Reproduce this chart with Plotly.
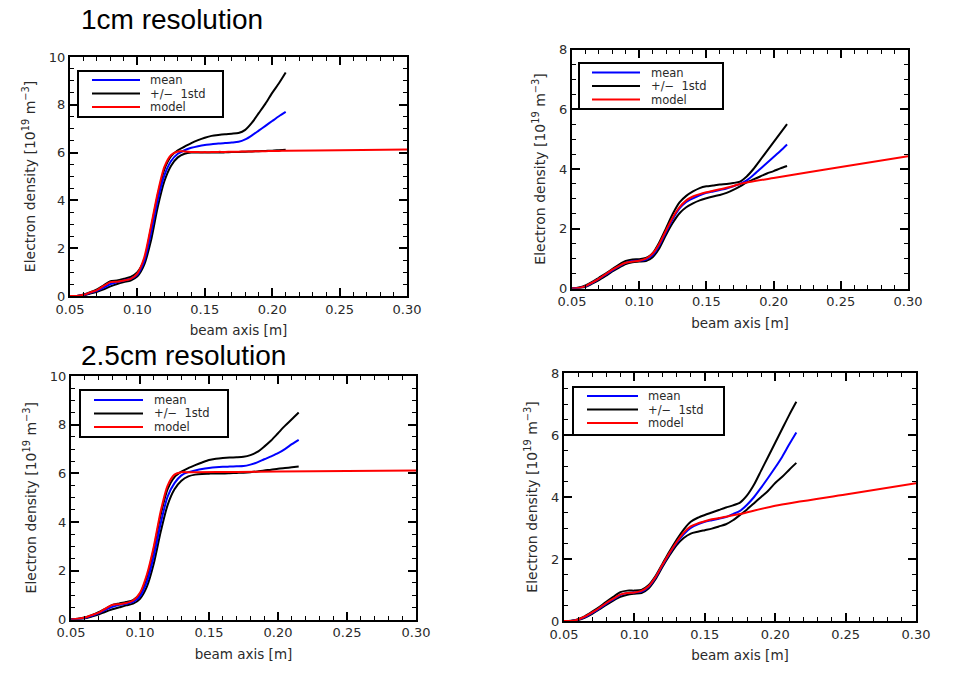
import numpy as np
import plotly.graph_objects as go

W, H = 955, 689

# ---------------- data ----------------
X_TOP = [round(0.05 + 0.005 * i, 3) for i in range(33)]   # 0.050 .. 0.210
X_BOT = [round(0.05 + 0.005 * i, 3) for i in range(34)]   # 0.050 .. 0.215

# panel: 1cm resolution, left
MEAN_TL = [0, 0, 0.04, 0.13, 0.22, 0.35, 0.5, 0.58, 0.65, 0.72, 0.9, 1.45, 2.6, 4.0, 5.05, 5.65,
           5.95, 6.1, 6.2, 6.27, 6.32, 6.35, 6.38, 6.4, 6.42, 6.45, 6.55, 6.72, 6.92, 7.12, 7.32, 7.52, 7.7]
UPPER_TL = [0, 0, 0.06, 0.16, 0.28, 0.45, 0.62, 0.65, 0.72, 0.8, 1.0, 1.5, 2.8, 4.2, 5.3, 5.85,
            6.1, 6.25, 6.4, 6.52, 6.62, 6.7, 6.74, 6.77, 6.79, 6.82, 6.95, 7.25, 7.65, 8.05, 8.5, 8.9, 9.35]
LOWER_TL = [0, 0, 0.02, 0.1, 0.18, 0.28, 0.4, 0.5, 0.58, 0.65, 0.82, 1.3, 2.3, 3.7, 4.8, 5.45,
            5.8, 5.95, 6.0, 6.0, 6.0, 6.0, 6.0, 6.01, 6.02, 6.03, 6.04, 6.05, 6.06, 6.07, 6.08, 6.1, 6.12]
MODEL_X_TL = X_TOP + [0.25, 0.30]
MODEL_TL = [0, 0, 0.05, 0.15, 0.25, 0.42, 0.58, 0.6, 0.65, 0.72, 0.95, 1.6, 2.9, 4.3, 5.4, 5.9,
            6.05, 6.05, 6.03, 6.02, 6.02, 6.02, 6.03, 6.03, 6.04, 6.04, 6.05, 6.05, 6.06, 6.06, 6.07,
            6.07, 6.08, 6.1, 6.13]

# panel: 1cm resolution, right
MEAN_TR = [0, 0.02, 0.07, 0.19, 0.32, 0.46, 0.61, 0.74, 0.86, 0.92, 0.93, 0.97, 1.12, 1.45, 1.9, 2.33,
           2.68, 2.9, 3.02, 3.12, 3.2, 3.25, 3.3, 3.35, 3.42, 3.5, 3.62, 3.8, 4.0, 4.2, 4.4, 4.6, 4.82]
UPPER_TR = [0, 0.03, 0.1, 0.22, 0.36, 0.5, 0.65, 0.8, 0.92, 0.97, 0.98, 1.02, 1.18, 1.55, 2.02, 2.5,
            2.88, 3.1, 3.25, 3.36, 3.42, 3.45, 3.48, 3.5, 3.53, 3.58, 3.75, 4.0, 4.3, 4.6, 4.9, 5.2, 5.5]
LOWER_TR = [0, 0.01, 0.05, 0.16, 0.28, 0.42, 0.57, 0.7, 0.82, 0.88, 0.9, 0.92, 1.05, 1.35, 1.8, 2.2,
            2.52, 2.72, 2.85, 2.95, 3.02, 3.08, 3.13, 3.2, 3.3, 3.42, 3.55, 3.65, 3.75, 3.85, 3.93, 4.02, 4.1]
MODEL_X_TR = X_TOP[:26] + [0.20, 0.25, 0.30]
MODEL_TR = [0, 0.02, 0.08, 0.2, 0.33, 0.48, 0.63, 0.76, 0.86, 0.9, 0.93, 1.0, 1.17, 1.5, 1.95, 2.38,
            2.72, 2.95, 3.08, 3.16, 3.22, 3.27, 3.32, 3.37, 3.43, 3.5, 3.7, 4.07, 4.43]

# panel: 2.5cm resolution, left
MEAN_BL = [0, 0.02, 0.06, 0.15, 0.25, 0.4, 0.52, 0.6, 0.65, 0.72, 0.95, 1.55, 2.6, 3.95, 5.05, 5.6,
           5.92, 6.05, 6.12, 6.18, 6.22, 6.25, 6.27, 6.28, 6.29, 6.3, 6.36, 6.45, 6.58, 6.7, 6.83, 7.0,
           7.2, 7.38]
UPPER_BL = [0, 0.03, 0.08, 0.18, 0.3, 0.45, 0.6, 0.66, 0.72, 0.8, 1.05, 1.75, 2.9, 4.3, 5.35, 5.85,
            6.07, 6.22, 6.34, 6.45, 6.55, 6.6, 6.63, 6.65, 6.66, 6.68, 6.75, 6.88, 7.1, 7.35, 7.65, 7.95,
            8.22, 8.5]
LOWER_BL = [0, 0.01, 0.04, 0.12, 0.2, 0.32, 0.42, 0.5, 0.58, 0.65, 0.85, 1.35, 2.3, 3.6, 4.7, 5.35,
            5.7, 5.88, 5.95, 5.98, 5.99, 6.0, 6.0, 6.01, 6.02, 6.03, 6.05, 6.08, 6.12, 6.15, 6.19, 6.22,
            6.25, 6.28]
MODEL_X_BL = X_BOT[:19] + [0.17, 0.20, 0.25, 0.30]
MODEL_BL = [0, 0.03, 0.08, 0.18, 0.28, 0.45, 0.6, 0.63, 0.68, 0.78, 1.1, 1.85, 3.0, 4.45, 5.5, 5.95,
            6.05, 6.05, 6.05, 6.06, 6.08, 6.1, 6.12]

# panel: 2.5cm resolution, right
MEAN_BR = [0, 0, 0.04, 0.13, 0.26, 0.4, 0.56, 0.7, 0.84, 0.9, 0.92, 0.95, 1.1, 1.4, 1.8, 2.18,
           2.52, 2.8, 3.0, 3.12, 3.2, 3.25, 3.3, 3.35, 3.45, 3.55, 3.75, 4.0, 4.3, 4.62, 4.95, 5.3,
           5.7, 6.08]
UPPER_BR = [0, 0.01, 0.06, 0.16, 0.3, 0.45, 0.62, 0.78, 0.93, 0.98, 0.98, 1.0, 1.15, 1.45, 1.85, 2.25,
            2.62, 2.95, 3.2, 3.33, 3.42, 3.5, 3.58, 3.66, 3.73, 3.82, 4.05, 4.4, 4.85, 5.3, 5.75, 6.2,
            6.65, 7.07]
LOWER_BR = [0, 0, 0.03, 0.11, 0.23, 0.37, 0.52, 0.66, 0.78, 0.85, 0.88, 0.9, 1.05, 1.35, 1.75, 2.12,
            2.45, 2.68, 2.82, 2.88, 2.93, 2.98, 3.05, 3.12, 3.25, 3.42, 3.6, 3.8, 4.0, 4.2, 4.45, 4.65,
            4.88, 5.1]
MODEL_X_BR = X_BOT[:26] + [0.20, 0.25, 0.30]
MODEL_BR = [0, 0, 0.05, 0.15, 0.28, 0.42, 0.58, 0.72, 0.85, 0.9, 0.92, 0.97, 1.12, 1.42, 1.82, 2.2,
            2.55, 2.85, 3.05, 3.15, 3.22, 3.28, 3.32, 3.36, 3.41, 3.45, 3.72, 4.08, 4.44]

X_TICKS = [0.05, 0.10, 0.15, 0.20, 0.25, 0.30]
X_TICK_TEXT = ["0.05", "0.10", "0.15", "0.20", "0.25", "0.30"]
LEGEND_LABELS = ["mean", "+/\u2212\u00a0\u00a01std", "model"]
TITLES = ["1cm resolution", "2.5cm resolution"]
X_TITLE = "beam axis [m]"
Y_TITLE = "Electron density [10<sup>19</sup> m<sup>\u22123</sup>]"

# ---------------- layout geometry (pixels) ----------------
PANELS = [
    dict(box=(70, 407, 57, 296), ymax=10, x=X_TOP, mean=MEAN_TL, up=UPPER_TL, lo=LOWER_TL,
         mx=MODEL_X_TL, model=MODEL_TL, leg=(78, 223, 71, 117, 92, 140, 149, 80)),
    dict(box=(572, 908, 49.5, 288.5), ymax=8, x=X_TOP, mean=MEAN_TR, up=UPPER_TR, lo=LOWER_TR,
         mx=MODEL_X_TR, model=MODEL_TR, leg=(579, 723, 63, 109, 592, 640, 650, 72.5)),
    dict(box=(71, 416, 376, 619.5), ymax=10, x=X_BOT, mean=MEAN_BL, up=UPPER_BL, lo=LOWER_BL,
         mx=MODEL_X_BL, model=MODEL_BL, leg=(80, 228, 390, 437, 94, 143, 153, 400)),
    dict(box=(564, 916, 373, 621), ymax=8, x=X_BOT, mean=MEAN_BR, up=UPPER_BR, lo=LOWER_BR,
         mx=MODEL_X_BR, model=MODEL_BR, leg=(573, 724, 387, 435, 587, 638, 647, 396)),
]
ROW_GAP = 13.5


def px(x):
    return x / W


def py(y):
    return 1 - y / H


TXT = "#2a2a2a"
TICK_FONT = dict(family="DejaVu Sans", size=13, color=TXT)
BLUE, BLACK, RED = "#0000ff", "#000000", "#ff0000"

fig = go.Figure()
shapes, annotations = [], []
layout = {}

for i, p in enumerate(PANELS):
    n = "" if i == 0 else str(i + 1)
    xa, ya = "x" + n, "y" + n
    l, r, t, b = p["box"]
    spline = dict(shape="spline", smoothing=0.7, width=2)
    fig.add_trace(go.Scatter(x=p["x"], y=p["up"], mode="lines", line=dict(color=BLACK, **spline),
                             xaxis=xa, yaxis=ya, showlegend=False, name="+/- 1std"))
    fig.add_trace(go.Scatter(x=p["x"], y=p["lo"], mode="lines", line=dict(color=BLACK, **spline),
                             xaxis=xa, yaxis=ya, showlegend=False, name="-1std"))
    fig.add_trace(go.Scatter(x=p["x"], y=p["mean"], mode="lines", line=dict(color=BLUE, **spline),
                             xaxis=xa, yaxis=ya, showlegend=False, name="mean"))
    fig.add_trace(go.Scatter(x=p["mx"], y=p["model"], mode="lines", line=dict(color=RED, **spline),
                             xaxis=xa, yaxis=ya, showlegend=False, name="model"))

    layout["xaxis" + n] = dict(
        domain=[px(l), px(r)], anchor=ya, range=[0.05, 0.30], automargin=False,
        tickvals=X_TICKS, ticktext=X_TICK_TEXT, ticks="inside", ticklen=8, tickwidth=1.5,
        tickcolor="black", showline=True, linewidth=2, linecolor="black", mirror="ticks",
        showgrid=False, zeroline=False, tickfont=TICK_FONT,
        minor=dict(dtick=0.01, tick0=0.05, ticks="inside", ticklen=4, tickwidth=1.2,
                   tickcolor="black", showgrid=False),
        title=dict(text=X_TITLE, font=dict(family="DejaVu Sans", size=13.5, color=TXT),
                   standoff=10),
    )
    layout["yaxis" + n] = dict(
        domain=[py(b), py(t)], anchor=xa, range=[0, p["ymax"]], dtick=2, tick0=0,
        automargin=False,
        ticks="inside", ticklen=8, tickwidth=1.5, tickcolor="black", showline=True,
        linewidth=2, linecolor="black", mirror="ticks", showgrid=False, zeroline=False,
        tickfont=TICK_FONT,
        minor=dict(dtick=0.5, tick0=0, ticks="inside", ticklen=4, tickwidth=1.2,
                   tickcolor="black", showgrid=False),
        title=dict(text=Y_TITLE, font=dict(family="DejaVu Sans", size=14, color=TXT),
                   standoff=10),
    )

    # legend box
    bl, br, bt, bb, ll, lr, tx, row0 = p["leg"]
    shapes.append(dict(type="rect", xref="paper", yref="paper", x0=px(bl), x1=px(br),
                       y0=py(bb), y1=py(bt), line=dict(color="black", width=2),
                       fillcolor="white", layer="above"))
    for k, (col, lab) in enumerate(zip([BLUE, BLACK, RED], LEGEND_LABELS)):
        yy = row0 + k * ROW_GAP
        shapes.append(dict(type="line", xref="paper", yref="paper", x0=px(ll), x1=px(lr),
                           y0=py(yy), y1=py(yy), line=dict(color=col, width=2), layer="above"))
        annotations.append(dict(text=lab, xref="paper", yref="paper", x=px(tx), y=py(yy),
                                xanchor="left", yanchor="middle", showarrow=False, borderpad=0,
                                font=dict(family="DejaVu Sans", size=11.5, color=TXT)))

annotations.append(dict(text=TITLES[0], xref="paper", yref="paper", x=px(79), y=py(19),
                        xanchor="left", yanchor="middle", showarrow=False,
                        font=dict(family="Liberation Sans", size=28, color="black")))
annotations.append(dict(text=TITLES[1], xref="paper", yref="paper", x=px(79), y=py(355),
                        xanchor="left", yanchor="middle", showarrow=False,
                        font=dict(family="Liberation Sans", size=28, color="black")))

fig.update_layout(
    width=W, height=H, margin=dict(l=0, r=0, t=0, b=0, autoexpand=False),
    paper_bgcolor="white", plot_bgcolor="white", showlegend=False,
    shapes=shapes, annotations=annotations, **layout,
)

fig.write_html("out.html", config={"displayModeBar": False},
               post_script="document.body.style.margin='0';")
